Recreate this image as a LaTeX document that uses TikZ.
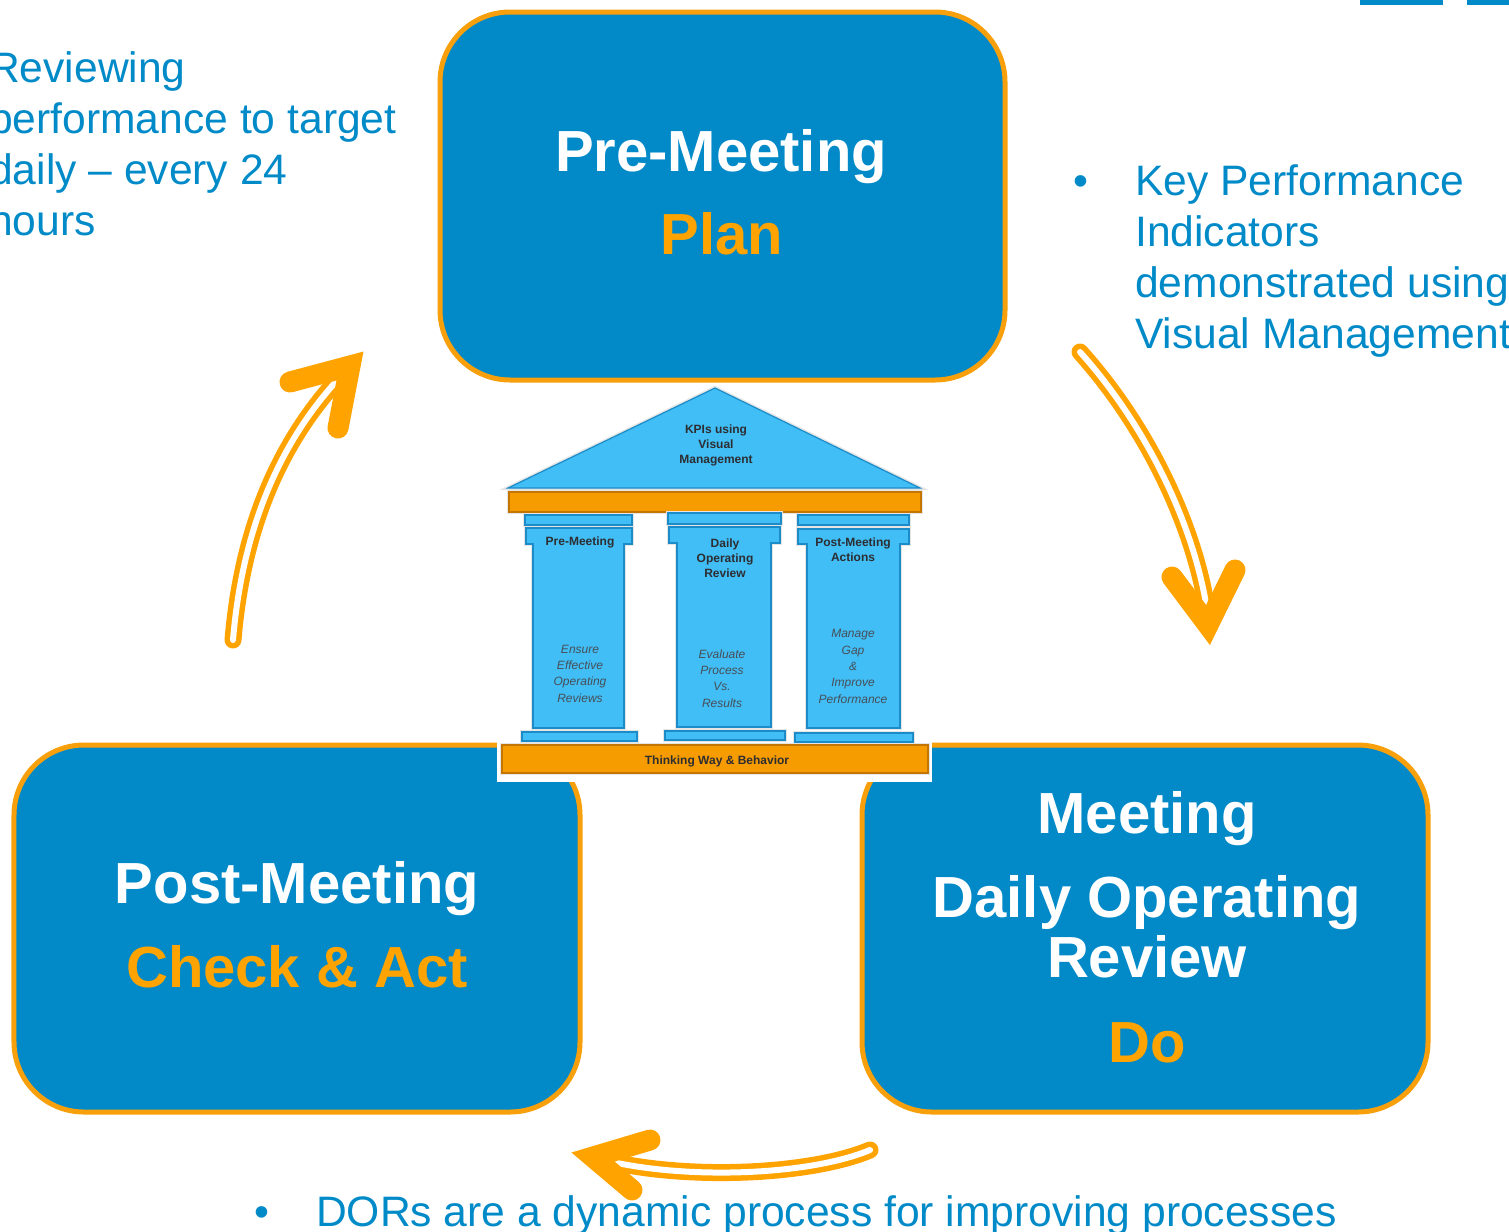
\documentclass[tikz,border=0pt]{standalone}
\usepackage{fontspec}
\setmainfont{Liberation Sans}
\definecolor{boxblue}{RGB}{2,137,200}
\definecolor{txtblue}{RGB}{0,138,200}
\definecolor{amber}{RGB}{255,163,0}
\definecolor{boxedge}{RGB}{248,160,12}
\definecolor{templeblue}{RGB}{64,190,245}
\definecolor{templeedge}{RGB}{28,140,200}
\definecolor{templeorange}{RGB}{246,156,0}
\definecolor{templeorangeedge}{RGB}{196,118,0}
\definecolor{inkgray}{RGB}{45,45,50}
\definecolor{italgray}{RGB}{72,78,88}

\begin{document}
\begin{tikzpicture}[x=1bp,y=-1bp,
  phasebox/.style={fill=boxblue, draw=boxedge, line width=5bp, rounded corners=70bp, inner sep=0pt},
  boxtitle/.style={text=white, font=\fontsize{58bp}{60bp}\selectfont\bfseries, anchor=base, inner sep=0pt, align=center},
  boxphase/.style={text=amber, font=\fontsize{58bp}{60bp}\selectfont\bfseries, anchor=base, inner sep=0pt},
  sidetext/.style={text=txtblue, font=\fontsize{42.6bp}{51bp}\selectfont, align=left, anchor=base west, inner sep=0pt},
  bulletmark/.style={text=txtblue, font=\fontsize{42.6bp}{51bp}\selectfont, anchor=base, inner sep=0pt},
  templeshape/.style={fill=templeblue, draw=templeedge, line width=1.2bp, preaction={draw=black!10, line width=4bp}},
  templeslab/.style={fill=templeorange, draw=templeorangeedge, line width=1.2bp, preaction={draw=black!10, line width=4bp}},
  templebold/.style={text=inkgray, font=\fontsize{12bp}{15bp}\selectfont\bfseries, align=center, anchor=base, inner sep=0pt},
  templeital/.style={text=italgray, font=\fontsize{12bp}{16.3bp}\selectfont\itshape, align=center, anchor=base, inner sep=0pt},
  shaftout/.style={draw=amber, line width=17bp, line cap=round},
  shaftin/.style={draw=white, line width=6bp, line cap=round},
  headstroke/.style={draw=amber, line width=21bp, line cap=round, line join=miter, miter limit=20},
]
\useasboundingbox (0,0) rectangle (1509,1231);

% the three phase boxes
\node[phasebox, minimum width=565bp, minimum height=368bp] (pre) at (722.5,196) {};
\node[phasebox, minimum width=566bp, minimum height=367bp] (post) at (297,928.5) {};
\node[phasebox, minimum width=566bp, minimum height=367bp] (dor) at (1145,928.5) {};

% small bars at the top edge
\fill[boxblue] (1360,0) rectangle (1443,5);
\fill[boxblue] (1467,0) rectangle (1509,5);

% box labels (multi-line nodes sit on the baseline of their last line)
\node[boxtitle] (pretitle) at (721,171) {Pre-Meeting};
\node[boxphase] (prephase) at (722,254) {Plan};
\node[boxtitle] (posttitle) at (297,903) {Post-Meeting};
\node[boxphase] (postphase) at (297,987) {Check \& Act};
\node[boxtitle] (dortitle) at (1147,833) {Meeting};
\node[boxtitle] (dorname) at (1147,977) {Daily Operating\\Review};
\node[boxphase] (dorphase) at (1147,1062) {Do};

% temple on its white panel
\fill[white] (497,383) rectangle (932,782);
\draw[templeshape] (715,388) -- (920,488) -- (508,488) -- cycle;
\draw[templeslab] (509,492) rectangle (921,512);
\draw[templeshape] (525,515) rectangle (632,525);
\draw[templeshape] (526,528) -- (632,528) -- (632,544) -- (624,544) -- (624,728) -- (533,728) -- (533,544) -- (526,544) -- cycle;
\draw[templeshape] (668,513) rectangle (781,524);
\draw[templeshape] (669,527) -- (780,527) -- (780,543) -- (771,543) -- (771,727) -- (677,727) -- (677,543) -- (669,543) -- cycle;
\draw[templeshape] (798,515) rectangle (909,525);
\draw[templeshape] (798,529) -- (909,529) -- (909,544) -- (900,544) -- (900,728) -- (807,728) -- (807,544) -- (798,544) -- cycle;
\draw[templeshape] (522,732) rectangle (637,741);
\draw[templeshape] (665,731) rectangle (785,740);
\draw[templeshape] (795,733) rectangle (913,742);
\draw[templeslab] (502,745) rectangle (928,773);

\node[templebold] (roof) at (716,463) {KPIs using\\Visual\\Management};
\node[templebold] (col1h) at (580,545) {Pre-Meeting};
\node[templebold] (col2h) at (725,577) {Daily\\Operating\\Review};
\node[templebold] (col3h) at (853,561) {Post-Meeting\\Actions};
\node[templeital] (col1t) at (580,702) {Ensure\\Effective\\Operating\\Reviews};
\node[templeital] (col2t) at (722,707) {Evaluate\\Process\\Vs.\\Results};
\node[templeital] (col3t) at (853,703) {Manage\\Gap\\\&\\Improve\\Performance};
\node[templebold] (found) at (717,764) {Thinking Way \& Behavior};

% side notes
\node[sidetext] (review) at (-11,235) {Reviewing\\performance to target\\daily – every 24\\hours};
\node[bulletmark] (kpidot) at (1081,195) {•};
\node[sidetext] (kpitext) at (1135,348) {Key Performance\\Indicators\\demonstrated using\\Visual Management};
\node[bulletmark] (dordot) at (262,1226) {•};
\node[sidetext] (dortext) at (316,1226) {DORs are a dynamic process for improving processes};

% cycle arrows
\coordinate (a1s) at (1080,352);
\coordinate (a1c1) at (1150,430);
\coordinate (a1c2) at (1195,530);
\coordinate (a1e) at (1207,610);
\coordinate (a1l) at (1172,577);
\coordinate (a1v) at (1208,625);
\coordinate (a1r) at (1235,570);
\draw[shaftout] (a1s) .. controls (a1c1) and (a1c2) .. (a1e);
\draw[shaftin] (a1s) .. controls (a1c1) and (a1c2) .. (a1e);
\draw[headstroke] (a1l) -- (a1v) -- (a1r);

\coordinate (c1s) at (870,1150);
\coordinate (c1c1) at (810,1175);
\coordinate (c1c2) at (690,1180);
\coordinate (c1e) at (608,1161);
\coordinate (c1u) at (650,1140);
\coordinate (c1v) at (593,1157);
\coordinate (c1d) at (632,1190);
\draw[shaftout] (c1s) .. controls (c1c1) and (c1c2) .. (c1e);
\draw[shaftin] (c1s) .. controls (c1c1) and (c1c2) .. (c1e);
\draw[headstroke] (c1u) -- (c1v) -- (c1d);

\coordinate (b1s) at (233,640);
\coordinate (b1c1) at (243,520);
\coordinate (b1c2) at (285,435);
\coordinate (b1e) at (343,374);
\coordinate (b1l) at (290,382);
\coordinate (b1v) at (350,366);
\coordinate (b1r) at (338,428);
\draw[shaftout] (b1s) .. controls (b1c1) and (b1c2) .. (b1e);
\draw[shaftin] (b1s) .. controls (b1c1) and (b1c2) .. (b1e);
\draw[headstroke] (b1l) -- (b1v) -- (b1r);
\end{tikzpicture}
\end{document}
